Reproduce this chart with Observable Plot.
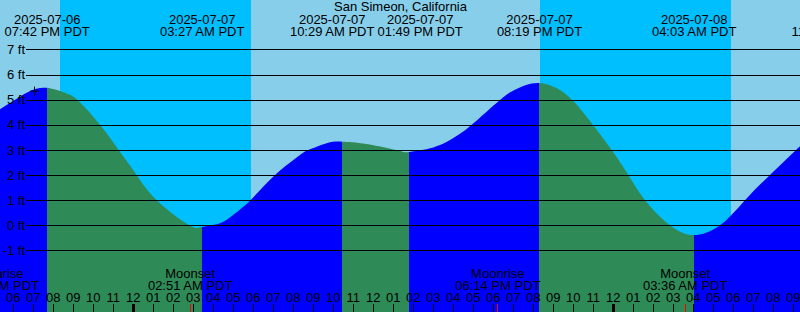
<!DOCTYPE html>
<html>
<head>
<meta charset="utf-8">
<script src="https://cdn.jsdelivr.net/npm/d3@7"></script>
<script src="https://cdn.jsdelivr.net/npm/@observablehq/plot@0.6"></script>
<style>
  html, body { margin: 0; padding: 0; background: #87CEEB; }
  #chart svg { display: block; }
</style>
</head>
<body>
<div id="chart"></div>
<script>
// ---------- data ----------
const station = "San Simeon, California";
const viewStart = "2025-07-06 17:22";
const viewEnd = "2025-07-08 09:22";
const yRangeFt = [-3.451, 8.967];
const gridFt = [-1, 0, 1, 2, 3, 4, 5, 6, 7];

// tide level (PDT wall time, feet)
const curveTimes = [
  "2025-07-06 17:22", "2025-07-06 18:22", "2025-07-06 19:01", "2025-07-06 19:42",
  "2025-07-06 20:42", "2025-07-06 21:22", "2025-07-06 22:22", "2025-07-06 23:17",
  "2025-07-07 00:12", "2025-07-07 01:12", "2025-07-07 02:47", "2025-07-07 03:27",
  "2025-07-07 04:22", "2025-07-07 05:02", "2025-07-07 05:52", "2025-07-07 07:07",
  "2025-07-07 08:22", "2025-07-07 08:47", "2025-07-07 09:42", "2025-07-07 10:29",
  "2025-07-07 11:42", "2025-07-07 13:22", "2025-07-07 13:49", "2025-07-07 15:02",
  "2025-07-07 16:02", "2025-07-07 16:57", "2025-07-07 18:22", "2025-07-07 19:12",
  "2025-07-07 20:19", "2025-07-07 21:42", "2025-07-07 22:52", "2025-07-07 23:57",
  "2025-07-08 00:47", "2025-07-08 01:37", "2025-07-08 02:52", "2025-07-08 04:03",
  "2025-07-08 05:22", "2025-07-08 06:37", "2025-07-08 07:52", "2025-07-08 09:10",
  "2025-07-08 09:22"
];
const curveFt = [
  4.62, 5.12, 5.39, 5.47,
  5.25, 4.90, 4.00, 3.02,
  2.00, 1.00, 0.02, -0.07,
  0.08, 0.42, 0.98, 2.00,
  2.80, 3.00, 3.27, 3.33,
  3.24, 2.96, 2.92, 3.10,
  3.47, 4.00, 4.99, 5.42,
  5.66, 5.19, 4.15, 3.00,
  2.00, 1.00, 0.00, -0.39,
  0.00, 1.00, 2.00, 3.00,
  3.12
];

// high / low tide events
const extremeTimes = [
  "2025-07-06 19:42", "2025-07-07 03:27", "2025-07-07 10:29", "2025-07-07 13:49",
  "2025-07-07 20:19", "2025-07-08 04:03", "2025-07-08 11:00"
];

// moon events
const moonTimes = ["2025-07-06 17:11", "2025-07-07 02:51", "2025-07-07 18:14", "2025-07-08 03:36"];
const moonKinds = ["Moonrise", "Moonset", "Moonrise", "Moonset"];

// night intervals
const sunsetTimes = ["2025-07-06 20:22", "2025-07-07 20:22"];
const sunriseTimes = ["2025-07-07 05:55", "2025-07-08 05:55"];

// current-time mark
const nowTime = "2025-07-06 19:04";
const nowFt = 5.36;

const colors = { day: "#87CEEB", night: "#00BFFF", rising: "#0000FF", falling: "#2E8B57", moonTick: "#FF0000", ink: "#000000" };

// ---------- build ----------
const W = 800, H = 312;
const parse = d3.utcParse("%Y-%m-%d %H:%M");
const fmtDate = d3.utcFormat("%Y-%m-%d");
const fmtTime = d3.utcFormat("%I:%M %p PDT");
const fmtHour = d3.utcFormat("%I");

const t0 = parse(viewStart), t1 = parse(viewEnd);
const curve = curveTimes.map((t, i) => ({ t: parse(t), ft: curveFt[i] }));
const nights = sunsetTimes.map((s, i) => ({ set: parse(s), rise: parse(sunriseTimes[i]) }));
const moons = moonTimes.map((t, i) => ({ t: parse(t), label: moonKinds[i] + "\n" + fmtTime(parse(t)) }));
const hours = d3.utcHour.range(t0, t1);

// tide labels, pushed apart when they would overlap
const labelWidthPx = 88;
const minSepMs = (t1 - t0) * labelWidthPx / W;
const tideLabels = extremeTimes.map(s => {
  const t = parse(s);
  return { t, pos: +t, label: fmtDate(t) + "\n" + fmtTime(t) };
});
for (let i = 1; i < tideLabels.length; i++) {
  const a = tideLabels[i - 1], b = tideLabels[i];
  const gap = b.pos - a.pos;
  if (gap < minSepMs) {
    const push = (minSepMs - gap) / 2;
    a.pos -= push; b.pos += push;
  }
}
tideLabels.forEach(d => d.labelT = new Date(d.pos));

// thin "+" symbol
const plusSymbol = {
  draw(ctx, size) {
    const r = Math.sqrt(size / Math.PI);
    ctx.moveTo(-r, 0); ctx.lineTo(r, 0);
    ctx.moveTo(0, -r); ctx.lineTo(0, r);
  }
};

const font = "'Liberation Sans', Arial, Helvetica, sans-serif";
const txt = { fontSize: 13, fill: colors.ink, lineAnchor: "middle" };

const chart = Plot.plot({
  width: W,
  height: H,
  margin: 0,
  x: { type: "utc", domain: [t0, t1], axis: null },
  y: { domain: yRangeFt, axis: null },
  style: { background: colors.day, fontFamily: font, fontSize: "13px", color: "black", overflow: "hidden" },
  marks: [
    Plot.rect(nights, { x1: "set", x2: "rise", fill: colors.night }),
    Plot.areaY(curve, { x: "t", y1: yRangeFt[0], y2: "ft", curve: "natural", fill: "url(#tideFill)" }),
    Plot.ruleY(gridFt, { y: d => d, insetLeft: 26, stroke: colors.ink, strokeWidth: 1, shapeRendering: "crispEdges" }),
    Plot.dot([{ t: parse(nowTime), ft: nowFt }], { x: "t", y: "ft", symbol: plusSymbol, r: 4.5, stroke: colors.ink, fill: "none", strokeWidth: 1 }),
    Plot.text(gridFt, { y: d => d, text: d => `${d} ft`, frameAnchor: "left", dx: 24.5, textAnchor: "end", ...txt }),
    Plot.text([station], { text: d => d, frameAnchor: "top", dy: 6.8, ...txt }),
    Plot.text(tideLabels, { x: "labelT", text: "label", frameAnchor: "top", dy: 25.6, lineHeight: 0.945, ...txt }),
    Plot.text(moons, { x: "t", text: "label", frameAnchor: "bottom", dy: -32.15, lineHeight: 0.945, ...txt }),
    Plot.ruleX(hours.filter(d => d.getUTCHours() !== 0), { x: d => d, insetTop: H - 8, stroke: colors.ink, strokeWidth: 1, shapeRendering: "crispEdges" }),
    Plot.ruleX(hours.filter(d => d.getUTCHours() === 0), { x: d => d, insetTop: H - 8, stroke: colors.ink, strokeWidth: 3, shapeRendering: "crispEdges" }),
    Plot.ruleX(moons, { x: "t", insetTop: H - 8, stroke: colors.moonTick, strokeWidth: 1, shapeRendering: "crispEdges" }),
    Plot.text(hours, { x: d => d, text: d => fmtHour(d), frameAnchor: "bottom", dy: -14.8, ...txt })
  ]
});

// gradient: blue while rising, green while falling, switching at each extreme
const sxDesc = chart.scale("x");
const sx = sxDesc.apply ? (t => sxDesc.apply(t)) : d3.scaleUtc(sxDesc.domain, sxDesc.range);
const defs = d3.select(chart).insert("defs", ":first-child");
const grad = defs.append("linearGradient")
  .attr("id", "tideFill").attr("gradientUnits", "userSpaceOnUse")
  .attr("x1", 0).attr("x2", W).attr("y1", 0).attr("y2", 0);
let cur = colors.rising;
grad.append("stop").attr("offset", 0).attr("stop-color", cur);
extremeTimes.forEach(s => {
  const off = Math.max(0, Math.min(1, sx(parse(s)) / W));
  grad.append("stop").attr("offset", off).attr("stop-color", cur);
  cur = cur === colors.rising ? colors.falling : colors.rising;
  grad.append("stop").attr("offset", off).attr("stop-color", cur);
});
grad.append("stop").attr("offset", 1).attr("stop-color", cur);

document.getElementById("chart").appendChild(chart);
</script>
</body>
</html>
